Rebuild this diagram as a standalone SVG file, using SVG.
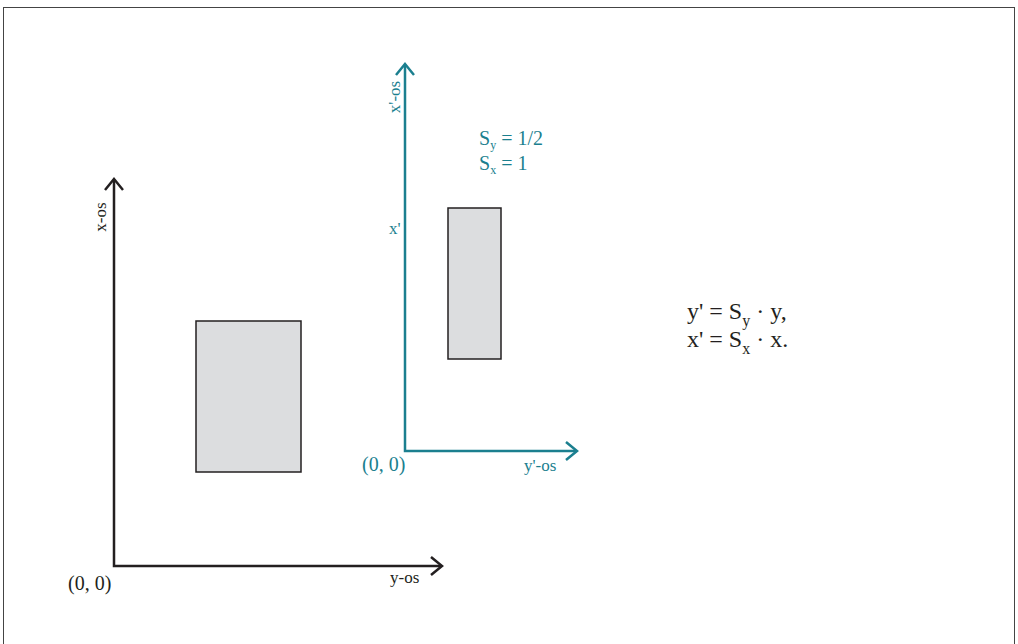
<svg xmlns="http://www.w3.org/2000/svg" width="1018" height="644" viewBox="0 0 1018 644">
<style>
text{font-family:"Liberation Serif","DejaVu Serif",serif}
.k{fill:#231f20}
.t{fill:#1b7f8f}
.axk{stroke:#231f20;stroke-width:2.5;fill:none}
.axt{stroke:#1b7f8f;stroke-width:2.5;fill:none}
.box{fill:#dcdddf;stroke:#231f20;stroke-width:1.5}
</style>
<rect x="3.5" y="7.5" width="1011" height="640" fill="#fff" stroke="#444" stroke-width="1"/>
<g id="connectors">
<path class="axk" d="M114,180 V566 H441"/>
<path class="axk" d="M105,190 L114,179 L123,190"/>
<path class="axk" d="M431,557 L442,566 L431,575"/>
<path class="axt" d="M405,65 V451 H576"/>
<path class="axt" d="M396,75 L405,64 L414,75"/>
<path class="axt" d="M566,442 L577,451 L566,460"/>
</g>
<g id="rect-original"><rect class="box" x="196" y="321" width="105" height="151"/></g>
<g id="rect-scaled"><rect class="box" x="448" y="208" width="53" height="151"/></g>
<g id="labels-black" class="k">
<text transform="translate(106,217) rotate(-90)" font-size="17" text-anchor="middle">x-os</text>
<text x="68" y="590" font-size="20">(0, 0)</text>
<text x="390" y="583" font-size="17">y-os</text>
</g>
<g id="labels-teal" class="t">
<text transform="translate(400,97) rotate(-90)" font-size="17" text-anchor="middle">x'-os</text>
<text x="389" y="234" font-size="17">x'</text>
<text x="479" y="145" font-size="20">S<tspan font-size="12" dy="4">y</tspan><tspan dy="-4"> = 1/2</tspan></text>
<text x="479" y="170" font-size="20">S<tspan font-size="12" dy="4">x</tspan><tspan dy="-4"> = 1</tspan></text>
<text x="362" y="471" font-size="20">(0, 0)</text>
<text x="524" y="471" font-size="17">y'-os</text>
</g>
<g id="formula" class="k">
<text x="687" y="319" font-size="24">y' = S<tspan font-size="16" dy="7">y</tspan><tspan dy="-7"> · y,</tspan></text>
<text x="687" y="347" font-size="24">x' = S<tspan font-size="16" dy="7">x</tspan><tspan dy="-7"> · x.</tspan></text>
</g>
</svg>
